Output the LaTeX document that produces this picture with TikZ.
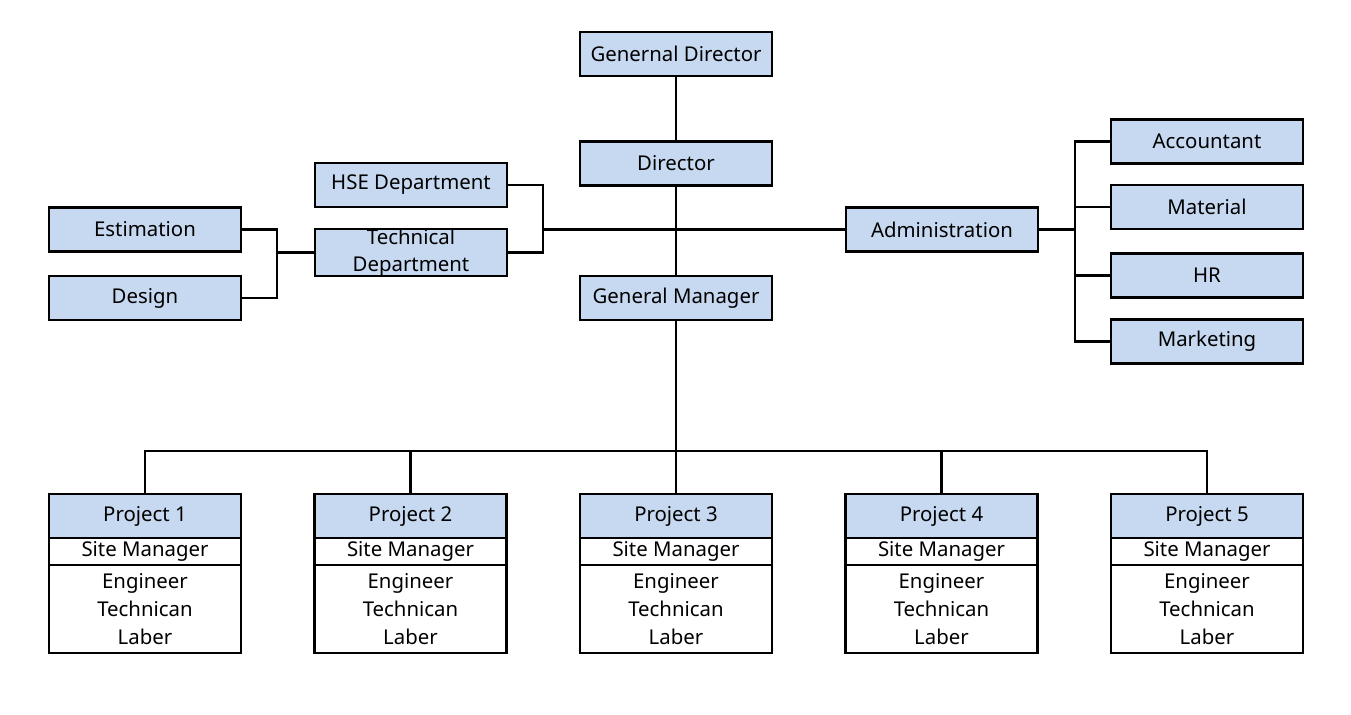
\documentclass[tikz,border=0pt]{standalone}
\usepackage{fontspec}
\setmainfont{Noto Sans}
\usetikzlibrary{positioning}
\definecolor{boxblue}{RGB}{198,217,240}

\begin{document}
\begin{tikzpicture}[x=0.02cm,y=-0.02cm,line width=1.2pt,
    box/.style={draw,fill=boxblue,outer sep=0pt,inner sep=0pt,
      minimum width=3.84cm,minimum height=0.88cm,
      font=\fontsize{11.6}{15.5}\selectfont},
    row/.style={box,fill=white}]
  \useasboundingbox (0,0) rectangle (1351,714);
  % top of the chart
  \node[box] (GD) at (676,54) {Genernal Director};
  \node[box] (D) at (676,163.5) {Director};
  \node[box] (GM) at (676,298) {General Manager};
  \node[box] (HSE) at (411,185) {HSE Department};
  \node[box,minimum height=0.94cm,align=center] (TD) at (411,252.5) {Technical\\Department};
  \node[box] (Est) at (145,229.5) {Estimation};
  \node[box] (Des) at (145,298) {Design};
  \node[box] (Adm) at (942,229.5) {Administration};
  \foreach \t/\y [count=\i] in {Accountant/141.5,Material/207,HR/275.5,Marketing/341.5}{%
    \node[box] (R-\i) at (1207,\y) {\t};
  }
  % projects
  \foreach \i in {1,...,5}{%
    \pgfmathparse{145+(\i-1)*265.5}
    \node[box] (P-\i) at (\pgfmathresult,516) {Project \i};
    \node[row,minimum height=0.54cm,below=0pt of P-\i] (S-\i) {Site Manager};
    \node[row,minimum height=1.76cm,align=center,below=0pt of S-\i,
      font=\fontsize{11.6}{16}\selectfont] (W-\i) {Engineer\\Technican\\Laber};
  }
  % connectors
  \coordinate (J1) at (543,229.5);
  \coordinate (J2) at (277,252.5);
  \coordinate (J3) at (1075,229.5);
  \coordinate (J4) at (676,451);
  \draw (GD) -- (D);
  \draw (D) -- (GM);
  \draw (HSE.east) -| (J1);
  \draw (TD.east) -| (J1);
  \draw (J1) -- (Adm);
  \draw (Est.east) -| (J2);
  \draw (Des.east) -| (J2);
  \draw (J2) -- (TD);
  \draw (Adm) -- (J3);
  \foreach \i in {1,...,4}{%
    \draw (J3) |- (R-\i.west);
  }
  \draw (GM) -- (J4);
  \foreach \i in {1,...,5}{%
    \draw (J4) -| (P-\i);
  }
\end{tikzpicture}
\end{document}
